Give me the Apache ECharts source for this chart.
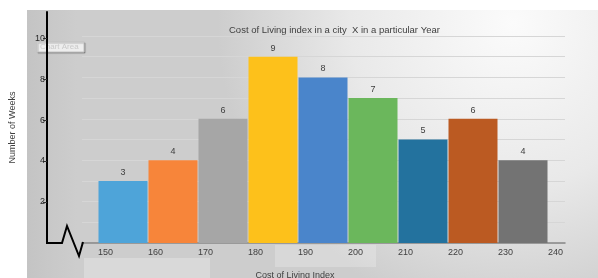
<!DOCTYPE html>
<html>
<head>
<meta charset="utf-8">
<script src="https://cdn.jsdelivr.net/npm/echarts@6/dist/echarts.min.js"></script>
<style>
html,body{margin:0;padding:0;background:#ffffff;}
#chart{width:598px;height:278px;}
</style>
</head>
<body>
<div id="chart"></div>
<script>
// ---- data ----
const binEdges = [150, 160, 170, 180, 190, 200, 210, 220, 230, 240];
const weeks = [3, 4, 6, 9, 8, 7, 5, 6, 4];
const barColors = ['#4ea4d9', '#f7853a', '#a6a6a6', '#fdc11b', '#4a85cb', '#6bb75c', '#23729e', '#bb5a22', '#737373'];
const yTickLabels = [2, 4, 6, 8, 10];
const titleText = 'Cost of Living index in a city  X in a particular Year';
const xTitle = 'Cost of Living Index';
const yTitle = 'Number of Weeks';

const FONT = '"Liberation Sans", sans-serif';
const textCol = '#404040';

const binData = weeks.map((w, i) => [binEdges[i], binEdges[i + 1], w]);

const chart = echarts.init(document.getElementById('chart'), null, {renderer: 'canvas'});

const option = {
  animation: false,
  backgroundColor: '#ffffff',
  textStyle: {fontFamily: FONT},
  title: {
    text: titleText,
    left: 224, top: 20,
    textStyle: {fontSize: 9.5, fontWeight: 'normal', color: textCol, fontFamily: FONT}
  },
  grid: [
    {left: 98, right: 50, top: 36, bottom: 35},   // bars
    {left: 82, right: 33, top: 36, bottom: 35},   // grid lines
    {left: 46, right: 33, top: 12, bottom: 35}    // black y axis
  ],
  xAxis: [
    {gridIndex: 0, type: 'value', min: 150, max: 240, interval: 10,
     axisLine: {show: false}, axisTick: {show: false}, splitLine: {show: false},
     axisLabel: {align: 'left', margin: 5, fontSize: 9, color: textCol, fontFamily: FONT}},
    {gridIndex: 1, type: 'value', min: 0, max: 1,
     axisLine: {show: true, lineStyle: {color: '#858585', width: 1.5}},
     axisTick: {show: false}, axisLabel: {show: false}, splitLine: {show: false}},
    {gridIndex: 2, type: 'value', min: 0, max: 1, show: false}
  ],
  yAxis: [
    {gridIndex: 0, type: 'value', min: 0, max: 10, interval: 1, show: false},
    {gridIndex: 1, type: 'value', min: 0, max: 10, interval: 1,
     axisLine: {show: false}, axisTick: {show: false}, axisLabel: {show: false},
     splitLine: {show: true, lineStyle: {color: '#d6d6d6', width: 1}}},
    {gridIndex: 2, type: 'value', min: 0, max: 11.27, z: 10,
     axisLine: {show: true, lineStyle: {color: '#000000', width: 2}},
     axisTick: {show: true, length: 4, customValues: yTickLabels, lineStyle: {color: '#333', width: 1}},
     axisLabel: {show: true, customValues: yTickLabels, margin: 2, fontSize: 9, color: '#2a2a2a', fontFamily: FONT},
     splitLine: {show: false},
     name: yTitle, nameLocation: 'middle', nameGap: 30, nameRotate: 90,
     nameTextStyle: {fontSize: 9, color: textCol, fontFamily: FONT}}
  ],
  series: [{
    type: 'custom',
    xAxisIndex: 0, yAxisIndex: 0,
    data: binData,
    encode: {x: [0, 1], y: 2},
    renderItem: function (params, api) {
      const s = api.value(0), e = api.value(1), v = api.value(2);
      const p0 = api.coord([s, 0]);
      const p1 = api.coord([e, v]);
      const idx = params.dataIndex;
      return {
        type: 'group',
        children: [
          {type: 'rect',
           shape: {x: p0[0] + 0.5, y: p1[1], width: p1[0] - p0[0] - 1, height: p0[1] - p1[1]},
           style: {fill: barColors[idx]}},
          {type: 'text',
           style: {text: String(v), x: (p0[0] + p1[0]) / 2, y: p1[1] - 4,
                   align: 'center', verticalAlign: 'bottom',
                   fontSize: 9, fill: textCol, fontFamily: FONT}}
        ]
      };
    }
  }],
  graphic: [
    {type: 'rect', z: -100, silent: true,
     shape: {x: 27, y: 10, width: 571, height: 268},
     style: {fill: new echarts.graphic.RadialGradient(0.85, 0.05, 1.1, [
       {offset: 0, color: '#fbfbfb'}, {offset: 0.55, color: '#e9e9e9'}, {offset: 1, color: '#cdcdcd'}])}},
    {type: 'rect', z: -99, silent: true,
     shape: {x: 27, y: 10, width: 50, height: 268},
     style: {fill: new echarts.graphic.LinearGradient(0, 0, 1, 0, [
       {offset: 0, color: 'rgba(190,190,190,0.6)'}, {offset: 1, color: 'rgba(190,190,190,0)'}])}},
    {type: 'rect', z: -98, silent: true,
     shape: {x: 84, y: 258, width: 126, height: 20},
     style: {fill: 'rgba(255,255,255,0.25)'}},
    {type: 'rect', z: -98, silent: true,
     shape: {x: 275, y: 245, width: 101, height: 22},
     style: {fill: 'rgba(255,255,255,0.22)'}},
    {type: 'group', z: -50, silent: true, children: [
      {type: 'rect', shape: {x: 37, y: 42, width: 47, height: 10},
       style: {fill: '#eeeeee', stroke: '#c4c4c4', lineWidth: 1,
               shadowColor: 'rgba(0,0,0,0.25)', shadowOffsetX: 1, shadowOffsetY: 1, shadowBlur: 1}},
      {type: 'text', style: {text: 'Chart Area', x: 40, y: 47, verticalAlign: 'middle',
        fontSize: 8, fill: '#c9c9c9', fontFamily: FONT}}
    ]},
    {type: 'polyline', z: 20, silent: true,
     shape: {points: [[46, 243], [62, 243], [67, 226], [79, 256], [83, 242]]},
     style: {stroke: '#000000', lineWidth: 2, fill: null}},
    {type: 'text', z: 20, silent: true,
     style: {text: xTitle, x: 295, y: 271, align: 'center', verticalAlign: 'top',
             fontSize: 9, fill: textCol, fontFamily: FONT}}
  ]
};
chart.setOption(option);
</script>
</body>
</html>
